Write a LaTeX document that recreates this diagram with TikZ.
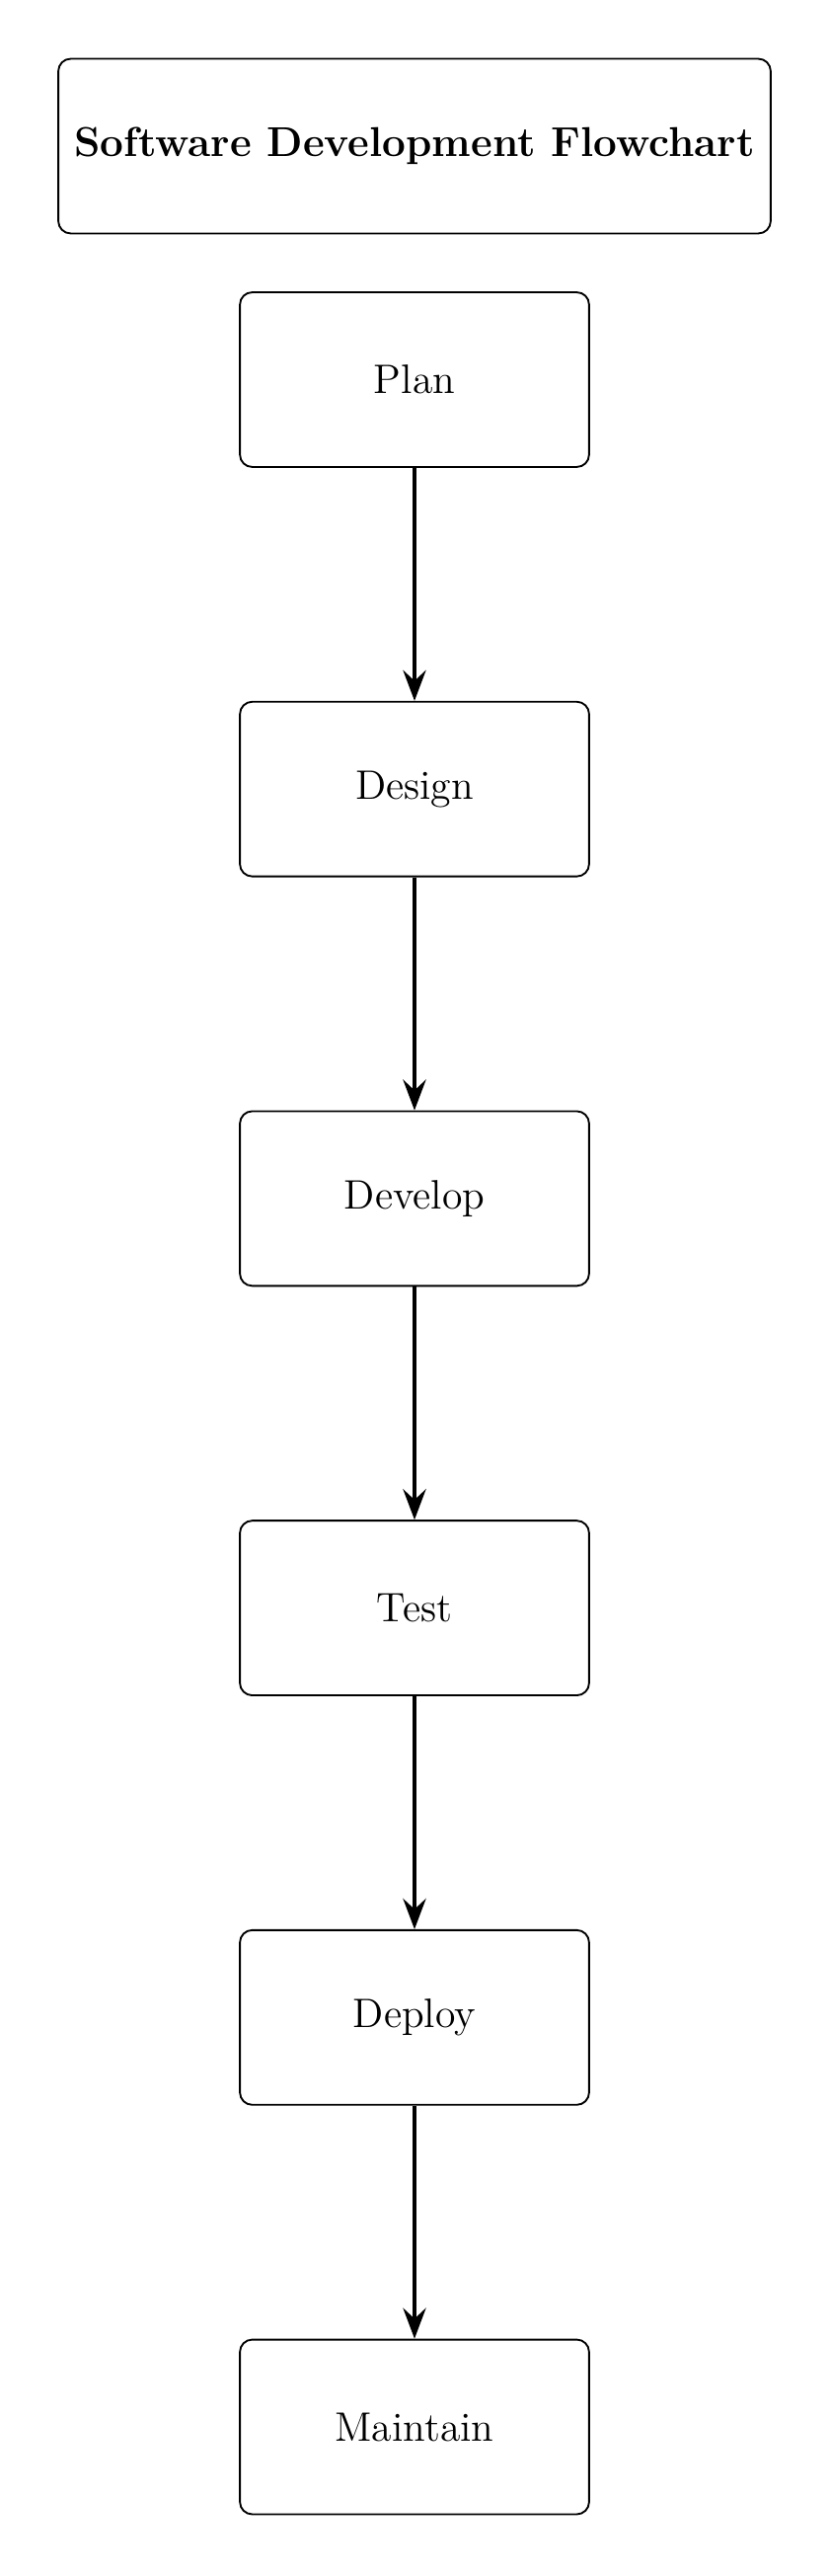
\documentclass[tikz,border=0pt]{standalone}
\usetikzlibrary{arrows.meta}
\begin{document}
\begin{tikzpicture}[x=0.0112994cm,y=0.0112994cm,
  stepbox/.style={draw,rounded corners=4pt,semithick,minimum width=4cm,minimum height=2cm,font=\fontsize{13.4pt}{16pt}\selectfont},
  titlebox/.style={draw,rounded corners=4pt,semithick,minimum width=8.16cm,minimum height=2cm,font=\fontsize{13.6pt}{16pt}\selectfont\bfseries},
  flow/.style={line width=1.1pt,-{Stealth[length=10pt,width=7.5pt,inset=3.5pt]}}]
\useasboundingbox (0,0) rectangle (840,-2609);
\node[titlebox] (title) at (420,-148) {Software Development Flowchart};
\node[stepbox] (plan) at (420,-384.5) {Plan};
\node[stepbox] (design) at (420,-799.2) {Design};
\node[stepbox] (develop) at (420,-1213.9) {Develop};
\node[stepbox] (test) at (420,-1628.6) {Test};
\node[stepbox] (deploy) at (420,-2043.3) {Deploy};
\node[stepbox] (maintain) at (420,-2458) {Maintain};
\draw[flow] (plan) -- (design);
\draw[flow] (design) -- (develop);
\draw[flow] (develop) -- (test);
\draw[flow] (test) -- (deploy);
\draw[flow] (deploy) -- (maintain);
\end{tikzpicture}
\end{document}
